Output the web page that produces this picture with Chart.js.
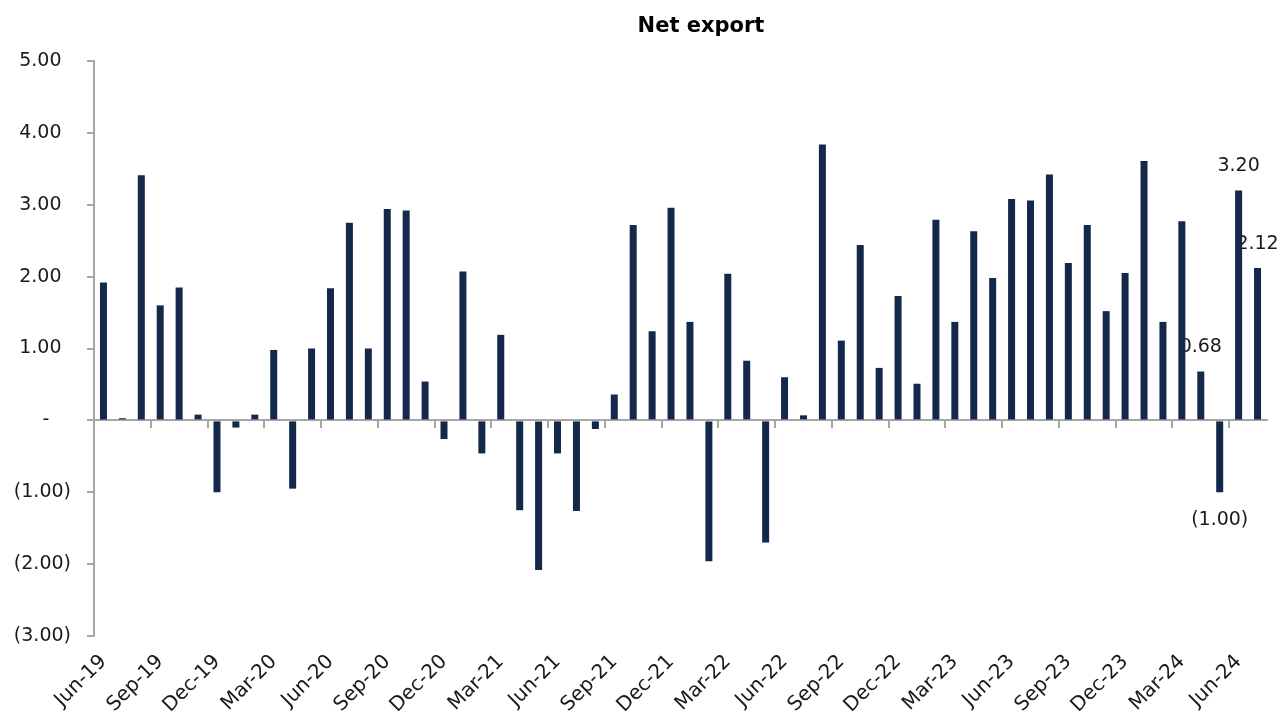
<!DOCTYPE html>
<html>
<head>
<meta charset="utf-8">
<title>Net export</title>
<script src="https://cdn.jsdelivr.net/npm/chart.js@4"></script>
<style>
  html, body { margin: 0; padding: 0; background: #fff; }
  #chart { display: block; }
</style>
</head>
<body>
<canvas id="chart" width="1285" height="722"></canvas>
<script>
// monthly net export, Jun-19 .. Jul-24
const months = [
  'Jun-19', 'Jul-19', 'Aug-19', 'Sep-19', 'Oct-19', 'Nov-19', 'Dec-19',
  'Jan-20', 'Feb-20', 'Mar-20', 'Apr-20', 'May-20', 'Jun-20', 'Jul-20', 'Aug-20', 'Sep-20', 'Oct-20', 'Nov-20', 'Dec-20',
  'Jan-21', 'Feb-21', 'Mar-21', 'Apr-21', 'May-21', 'Jun-21', 'Jul-21', 'Aug-21', 'Sep-21', 'Oct-21', 'Nov-21', 'Dec-21',
  'Jan-22', 'Feb-22', 'Mar-22', 'Apr-22', 'May-22', 'Jun-22', 'Jul-22', 'Aug-22', 'Sep-22', 'Oct-22', 'Nov-22', 'Dec-22',
  'Jan-23', 'Feb-23', 'Mar-23', 'Apr-23', 'May-23', 'Jun-23', 'Jul-23', 'Aug-23', 'Sep-23', 'Oct-23', 'Nov-23', 'Dec-23',
  'Jan-24', 'Feb-24', 'Mar-24', 'Apr-24', 'May-24', 'Jun-24', 'Jul-24',
];

const netExport = [
  1.92, 0.03, 3.41, 1.60, 1.85, 0.08, -1.00,
  -0.10, 0.08, 0.98, -0.95, 1.00, 1.84, 2.75, 1.00, 2.94, 2.92, 0.54, -0.26,
  2.07, -0.46, 1.19, -1.25, -2.08, -0.46, -1.26, -0.12, 0.36, 2.72, 1.24, 2.96,
  1.37, -1.96, 2.04, 0.83, -1.70, 0.60, 0.07, 3.84, 1.11, 2.44, 0.73, 1.73,
  0.51, 2.79, 1.37, 2.63, 1.98, 3.08, 3.06, 3.42, 2.19, 2.72, 1.52, 2.05,
  3.61, 1.37, 2.77, 0.68, -1.00, 3.20, 2.12,
];

// months that carry a value label
const labelledMonths = ['Apr-24', 'May-24', 'Jun-24', 'Jul-24'];

const yTicks = { min: -3, max: 5, step: 1 };

const BAR = '#14284b';
const AXIS = '#a6a6a6';
const TEXT = '#1a1a1a';
const FONT = 'Tahoma, "DejaVu Sans", sans-serif';

function fmt(v) {
  if (v === 0) return '-';
  const s = Math.abs(v).toFixed(2);
  return v < 0 ? '(' + s + ')' : s;
}

// Excel-like accounting alignment: pad positives and zero for the ')'
function axisFmt(v) {
  if (v === 0) return '-\u2007\u2002';
  return v < 0 ? fmt(v) : fmt(v) + '\u2002';
}

const titlePlugin = {
  id: 'netTitle',
  afterDraw(chart) {
    const { ctx } = chart;
    ctx.save();
    ctx.font = 'bold 21px ' + FONT;
    ctx.fillStyle = '#000';
    ctx.textAlign = 'center';
    ctx.textBaseline = 'middle';
    ctx.fillText('Net export', 701, 27);
    ctx.restore();
  },
};

const valueLabels = {
  id: 'valueLabels',
  beforeDatasetsDraw(chart) {
    const { ctx } = chart;
    const meta = chart.getDatasetMeta(0);
    ctx.save();
    ctx.font = '19px ' + FONT;
    ctx.fillStyle = TEXT;
    ctx.textAlign = 'center';
    ctx.textBaseline = 'middle';
    labelledMonths.forEach((m) => {
      const i = months.indexOf(m);
      const bar = meta.data[i];
      const v = netExport[i];
      const y = v < 0 ? bar.y + 28 : bar.y - 24;
      ctx.fillText(fmt(v), bar.x, y);
    });
    ctx.restore();
  },
};

new Chart(document.getElementById('chart'), {
  type: 'bar',
  data: {
    labels: months,
    datasets: [{
      label: 'Net export',
      data: netExport,
      backgroundColor: BAR,
      borderWidth: 0,
      barPercentage: 0.37,
      categoryPercentage: 1.0,
    }],
  },
  options: {
    responsive: false,
    animation: false,
    layout: { padding: { top: 61, right: 18, bottom: 0, left: 0 } },
    plugins: {
      legend: { display: false },
      tooltip: { enabled: false },
      title: { display: false },
    },
    scales: {
      x: {
        position: 'bottom',
        offset: true,
        grid: { display: false },
        border: { display: false },
        ticks: {
          autoSkip: false,
          minRotation: 45,
          maxRotation: 45,
          padding: 6,
          color: TEXT,
          font: { family: FONT, size: 20 },
          callback: (v, i) => (i % 3 === 0 ? months[i] : null),
        },
        afterFit: (scale) => { scale.height = 86; },
      },
      // zero line with category tick marks every quarter
      xZero: {
        type: 'category',
        position: { y: 0 },
        offset: true,
        grid: {
          offset: true,
          drawOnChartArea: false,
          drawTicks: true,
          tickLength: 7,
          lineWidth: 2,
          color: (c) => (c.index % 3 === 0 ? AXIS : 'rgba(0,0,0,0)'),
        },
        border: { display: true, color: AXIS, width: 2 },
        ticks: { display: false, autoSkip: false },
      },
      y: {
        min: yTicks.min,
        max: yTicks.max,
        grid: {
          drawOnChartArea: false,
          drawTicks: true,
          tickLength: 7,
          lineWidth: 2,
          color: AXIS,
        },
        border: { display: true, color: AXIS, width: 2 },
        ticks: {
          stepSize: yTicks.step,
          padding: 16,
          color: TEXT,
          font: { family: FONT, size: 19 },
          callback: (v) => axisFmt(v),
        },
        afterFit: (scale) => { scale.width = 94; },
      },
    },
  },
  plugins: [titlePlugin, valueLabels],
});
</script>
</body>
</html>
